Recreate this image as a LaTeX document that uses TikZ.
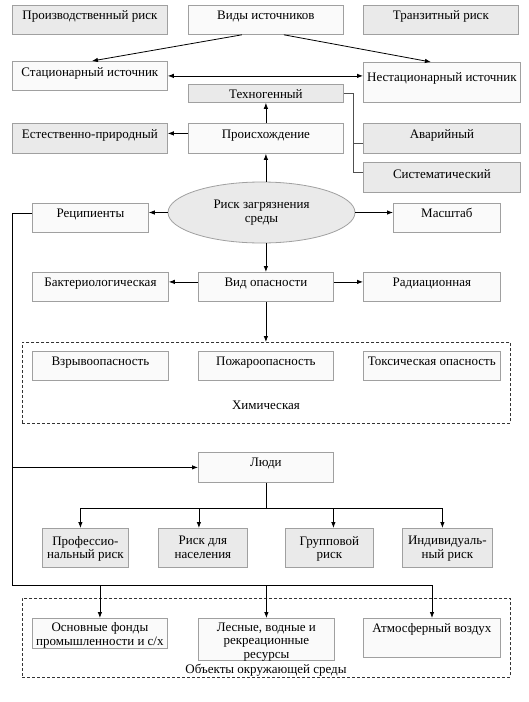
\documentclass[tikz,border=0pt]{standalone}
\usepackage{fontspec}
\setmainfont{Liberation Serif}
\usetikzlibrary{arrows.meta,shapes.geometric,calc}
\definecolor{boxline}{HTML}{A0A0A0}
\definecolor{grayfill}{HTML}{EAEAEA}
\definecolor{whitefill}{HTML}{FAFAFA}
\definecolor{brkline}{HTML}{505050}
\begin{document}
\begin{tikzpicture}[x=1pt,y=-1pt,
  font=\fontsize{13}{13.5}\selectfont,
  basebox/.style={draw=boxline, line width=0.8pt, rectangle, anchor=north west, inner sep=0pt},
  wbox/.style={basebox, fill=whitefill},
  gbox/.style={basebox, fill=grayfill},
  lbl/.style={anchor=north, inner sep=0pt, yshift=-#1, align=center, execute at begin node=\strut},
  lbl/.default=5pt,
  arr/.style={line width=0.8pt, -{Latex[length=6pt,width=4.5pt]}},
  dblarr/.style={line width=0.8pt, {Latex[length=6pt,width=4.5pt]}-{Latex[length=6pt,width=4.5pt]}},
  ln/.style={line width=0.8pt},
  brk/.style={line width=0.8pt, draw=brkline},
  dbox/.style={draw=black!80, line width=0.8pt, dash pattern=on 3pt off 2pt, rectangle, anchor=north west, inner sep=0pt}
]
\useasboundingbox (0,0) rectangle (528,702);

% top row
\node[gbox, minimum width=155pt, minimum height=29pt, label={[lbl]north:Производственный риск}] (prod) at (12,5) {};
\node[wbox, minimum width=155pt, minimum height=29pt, label={[lbl]north:Виды источников}] (vid) at (188,5) {};
\node[gbox, minimum width=155pt, minimum height=29pt, label={[lbl]north:Транзитный риск}] (tranz) at (363,5) {};

\node[wbox, minimum width=155pt, minimum height=29pt, label={[lbl=6pt]north:Стационарный источник}] (stat) at (12,61) {};
\node[wbox, minimum width=157pt, minimum height=40pt, label={[lbl=10pt]north:Нестационарный источник}] (nestat) at (363,62) {};

\node[gbox, minimum width=155pt, minimum height=18pt, label={[lbl=5pt]north:Техногенный}] (tech) at (188,84) {};

\node[gbox, minimum width=155pt, minimum height=30pt, label={[lbl=6pt]north:Естественно-природный}] (estest) at (12,123) {};
\node[wbox, minimum width=155pt, minimum height=30pt, label={[lbl=6pt]north:Происхождение}] (proish) at (188,123) {};
\node[gbox, minimum width=157pt, minimum height=30pt, label={[lbl=6pt]north:Аварийный}] (avar) at (363,123) {};
\node[gbox, minimum width=157pt, minimum height=30pt, label={[lbl=7pt]north:Систематический}] (sist) at (363,162) {};

\node[wbox, minimum width=116pt, minimum height=29pt, label={[lbl=5pt]north:Реципиенты}] (rec) at (32,203) {};
\node[ellipse, draw=boxline, fill=grayfill, line width=0.8pt, minimum width=187pt, minimum height=61pt, inner sep=0pt, align=center] (ell) at (261.5,212.5) {Риск загрязнения\\среды};
\node[wbox, minimum width=107pt, minimum height=29pt, label={[lbl=5pt]north:Масштаб}] (masht) at (393,203) {};

\node[wbox, minimum width=136pt, minimum height=29pt, label={[lbl=5pt]north:Бактериологическая}] (bakt) at (32,272) {};
\node[wbox, minimum width=135pt, minimum height=29pt, label={[lbl=5pt]north:Вид опасности}] (vidop) at (198,272) {};
\node[wbox, minimum width=137pt, minimum height=29pt, label={[lbl=5pt]north:Радиационная}] (rad) at (363,272) {};

\node[dbox, minimum width=488pt, minimum height=81pt] (chem) at (22,342) {};
\node[wbox, minimum width=136pt, minimum height=29pt, label={[lbl]north:Взрывоопасность}] (vzryv) at (32,351) {};
\node[wbox, minimum width=135pt, minimum height=29pt, label={[lbl]north:Пожароопасность}] (pozh) at (198,351) {};
\node[wbox, minimum width=137pt, minimum height=29pt, label={[lbl]north:Токсическая опасность}] (toks) at (363,351) {};
\node (chemlbl) at (266,405) {Химическая};

\node[wbox, minimum width=135pt, minimum height=30pt, label={[lbl]north:Люди}] (lyudi) at (198,452) {};

\node[gbox, minimum width=86pt, minimum height=39pt, label={[lbl=8pt]north:Профессио-\\нальный риск}] (prof) at (42,528) {};
\node[gbox, minimum width=89pt, minimum height=39pt, label={[lbl=8pt]north:Риск для\\населения}] (nas) at (158,528) {};
\node[gbox, minimum width=88pt, minimum height=39pt, label={[lbl=8pt]north:Групповой\\риск}] (grup) at (285,528) {};
\node[gbox, minimum width=90pt, minimum height=39pt, label={[lbl=8pt]north:Индивидуаль-\\ный риск}] (ind) at (402,528) {};

\node[dbox, minimum width=488pt, minimum height=79pt] (env) at (22,598) {};
\node[wbox, minimum width=135pt, minimum height=30pt, label={[lbl=4.2pt, font=\fontsize{13}{14}\selectfont]north:Основные фонды\\промышленности и с/х}] (osn) at (32,618) {};
\node[wbox, minimum width=136pt, minimum height=42pt, label={[lbl=4.5pt]north:Лесные, водные и\\рекреационные\\ресурсы}] (les) at (198,618) {};
\node[wbox, minimum width=137pt, minimum height=39pt, label={[lbl=4.5pt]north:Атмосферный воздух}] (atm) at (363,618) {};
\node (envlbl) at (266,670.5) {Объекты окружающей среды};

% connectors
\draw[arr] ([xshift=-24pt]vid.south) -- ([xshift=2pt]stat.north);
\draw[arr] ([xshift=18pt]vid.south) -- ([xshift=-11pt]nestat.north);
\draw[dblarr] (stat.east) -- (stat.east -| nestat.west);

\coordinate (bx) at (353,93);
\coordinate (sistin) at ([yshift=5pt]sist.west);
\coordinate (avin) at ([yshift=-5pt]avar.west);
\draw[brk] (tech.east) -- (tech.east -| bx) -- (bx |- sistin) -- (sistin);
\draw[brk] (bx |- avin) -- (avin);

\draw[arr] (proish.north) -- (proish.north |- tech.south);
\draw[arr] ([yshift=5pt]proish.west) -- ([yshift=5pt]proish.west -| estest.east);
\draw[arr] (ell.north -| proish.south) -- (proish.south);

\draw[arr] (ell.west) -- (ell.west -| rec.east);
\draw[arr] (ell.east) -- (ell.east -| masht.west);
\draw[arr] (ell.south -| vidop.north) -- (vidop.north);

\draw[arr] ([yshift=5pt]vidop.west) -- ([yshift=5pt]vidop.west -| bakt.east);
\draw[arr] ([yshift=5pt]vidop.east) -- ([yshift=5pt]vidop.east -| rad.west);
\draw[arr] (vidop.south) -- (vidop.south |- chem.north);

\coordinate (spinetop) at (12,213);
\coordinate (spinebot) at (12,585);
\coordinate (botend) at (432,585);
\draw[ln] (rec.west |- spinetop) -- (spinetop) -- (spinebot) -- (botend);
\draw[arr] (spinetop |- lyudi.west) -- (lyudi.west);
\draw[arr] (spinebot -| osn.north) -- (osn.north);
\draw[arr] (spinebot -| les.north) -- (les.north);
\draw[arr] (botend) -- (botend |- atm.north);

\coordinate (pbar) at (266,508);
\coordinate (pa) at ([xshift=-5pt]prof.north);
\coordinate (pb) at ([xshift=-4pt]nas.north);
\coordinate (pc) at ([xshift=4pt]grup.north);
\coordinate (pd) at ([xshift=-5pt]ind.north);
\draw[ln] (lyudi.south) -- (lyudi.south |- pbar);
\draw[ln] (pa |- pbar) -- (pd |- pbar);
\draw[arr] (pa |- pbar) -- (pa);
\draw[arr] (pb |- pbar) -- (pb);
\draw[arr] (pc |- pbar) -- (pc);
\draw[arr] (pd |- pbar) -- (pd);
\end{tikzpicture}
\end{document}
